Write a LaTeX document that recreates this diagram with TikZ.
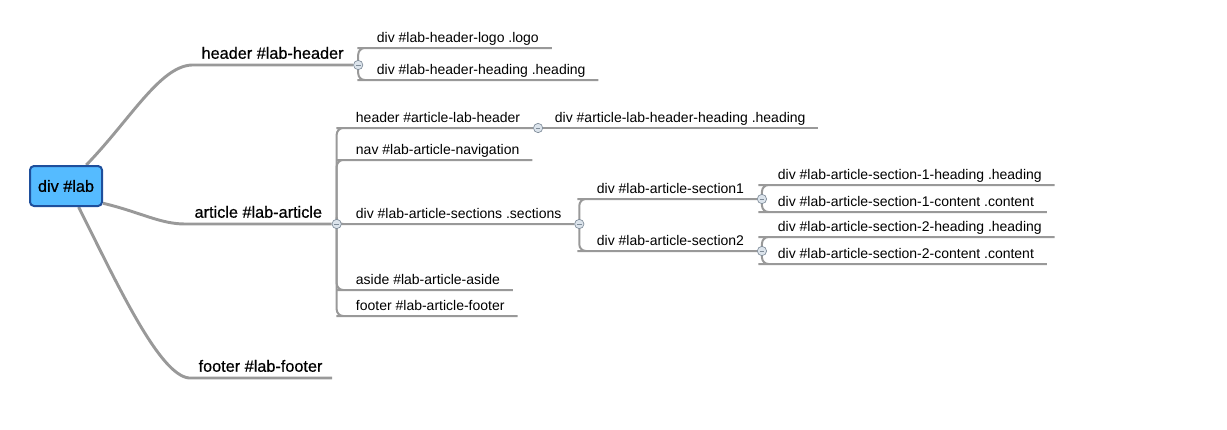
\documentclass[tikz,border=0pt]{standalone}
\usepackage{fontspec}
\setmainfont{Liberation Sans}
\newfontfamily\topicfont{Liberation Sans}[FakeBold=0.6]
\usetikzlibrary{backgrounds}
\definecolor{linegray}{HTML}{999999}
\definecolor{rootfill}{HTML}{55BBFF}
\definecolor{rootdraw}{HTML}{1E4F9C}
\definecolor{togfill}{HTML}{DCE4EC}
\definecolor{togdraw}{HTML}{7F8C99}

\begin{document}
\begin{tikzpicture}[x=0.75pt,y=-0.75pt,
    root/.style={draw=rootdraw, fill=rootfill, line width=1.5pt, rounded corners=3pt,
      minimum width=54pt, minimum height=30pt, font=\topicfont\fontsize{12.2}{14}\selectfont},
    topic/.style={anchor=south west, inner xsep=7pt, inner ysep=4.5pt, text depth=0pt,
      font=\topicfont\fontsize{12.2}{14}\selectfont},
    leaf/.style={anchor=south west, inner xsep=9.5pt, inner ysep=3.75pt, text depth=0pt,
      font=\fontsize{10.5}{12}\selectfont},
    branch/.style={draw=linegray, line width=2.2pt},
    twig/.style={draw=linegray, line width=1.5pt, rounded corners=5pt},
    toggle/.style={circle, draw=togdraw, fill=togfill, line width=0.5pt, inner sep=0pt,
      minimum size=7pt, anchor=west,
      path picture={\draw[line width=0.7pt] ([xshift=-1.8pt]path picture bounding box.center)
        -- ([xshift=1.8pt]path picture bounding box.center);}}]
    \useasboundingbox (0,0) rectangle (1227,429);

    \node [root] (root) at (66,186) {div \#lab};

    \node [topic] (hdr) at (192,65) {header \#lab-header};
    \node [topic] (art) at (185,224) {article \#lab-article};
    \node [topic] (ftr) at (189,378) {footer \#lab-footer};

    \node [toggle] (thdr) at (hdr.south east) {};
    \node [toggle] (tart) at (art.south east) {};

    \node [leaf] (logo) at (364,48) {div \#lab-header-logo .logo};
    \node [leaf] (hhead) at (364,80) {div \#lab-header-heading .heading};

    \node [leaf] (ahdr) at (343,128) {header \#article-lab-header};
    \node [toggle] (tahdr) at (ahdr.south east) {};
    \node [leaf] (ahhead) at (542,128) {div \#article-lab-header-heading .heading};
    \node [leaf] (nav) at (343,160) {nav \#lab-article-navigation};
    \node [leaf] (secs) at (343,224) {div \#lab-article-sections .sections};
    \node [toggle] (tsecs) at (secs.south east) {};
    \node [leaf] (aside) at (343,290) {aside \#lab-article-aside};
    \node [leaf] (afoot) at (343,316) {footer \#lab-article-footer};

    \node [leaf] (sec1) at (584,199) {div \#lab-article-section1};
    \node [toggle] (tsec1) at (sec1.south east) {};
    \node [leaf] (sec2) at (584,251) {div \#lab-article-section2};
    \node [toggle] (tsec2) at (sec2.south east) {};

    \node [leaf] (s1head) at (765,185) {div \#lab-article-section-1-heading .heading};
    \node [leaf] (s1body) at (765,212) {div \#lab-article-section-1-content .content};
    \node [leaf] (s2head) at (765,237) {div \#lab-article-section-2-heading .heading};
    \node [leaf] (s2body) at (765,264) {div \#lab-article-section-2-content .content};

    \begin{scope}[on background layer]
    \draw [branch] (root.46) .. controls (130,120) and (160,66) .. (hdr.south west) -- (hdr.south east);
    \draw [branch] (root.-25) .. controls (140,212) and (160,224) .. (art.south west) -- (art.south east);
    \draw [branch] (root.-59) .. controls (120,290) and (160,375) .. (ftr.south west) -- (ftr.south east);

    \draw [twig] (thdr.center) |- (logo.south west) -- (logo.south east);
    \draw [twig] (thdr.center) |- (hhead.south west) -- (hhead.south east);

    \draw [twig] (tart.center) |- (ahdr.south west) -- (ahdr.south east);
    \draw [twig] (tart.center) |- (nav.south west) -- (nav.south east);
    \draw [twig] (tart.center) |- (secs.south west) -- (secs.south east);
    \draw [twig] (tart.center) |- (aside.south west) -- (aside.south east);
    \draw [twig] (tart.center) |- (afoot.south west) -- (afoot.south east);

    \draw [twig] (tahdr.center) -- (ahhead.south west) -- (ahhead.south east);

    \draw [twig] (tsecs.center) |- (sec1.south west) -- (sec1.south east);
    \draw [twig] (tsecs.center) |- (sec2.south west) -- (sec2.south east);

    \draw [twig] (tsec1.center) |- (s1head.south west) -- (s1head.south east);
    \draw [twig] (tsec1.center) |- (s1body.south west) -- (s1body.south east);
    \draw [twig] (tsec2.center) |- (s2head.south west) -- (s2head.south east);
    \draw [twig] (tsec2.center) |- (s2body.south west) -- (s2body.south east);
    \end{scope}
\end{tikzpicture}
\end{document}
